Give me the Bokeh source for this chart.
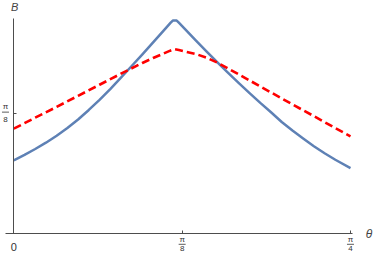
import numpy as np
from bokeh.plotting import figure
from bokeh.models import FixedTicker, Range1d, CustomJSTickFormatter
from bokeh.embed import file_html
from bokeh.resources import INLINE
from bokeh.core.properties import value

PI = np.pi

# --- data ---
theta_blue = [0, 0.025, 0.05, 0.075, 0.10, 0.125, 0.15, 0.175, 0.20, 0.225, 0.25, 0.275,
              0.30, 0.325, 0.35, 0.366, 0.371, 0.380, 0.385, 0.40, 0.425, 0.45, 0.475,
              0.50, 0.525, 0.55, 0.575, 0.60, 0.625, 0.65, 0.675, 0.70, 0.725, 0.75, 0.7854]
b_blue = [0.239, 0.257, 0.276, 0.2965, 0.319, 0.344, 0.372, 0.403, 0.436, 0.471, 0.508, 0.546,
          0.584, 0.623, 0.662, 0.687, 0.694, 0.694, 0.687, 0.665, 0.629, 0.593, 0.558,
          0.524, 0.4905, 0.458, 0.426, 0.3955, 0.364, 0.336, 0.310, 0.285, 0.262, 0.241, 0.214]

theta_red = [0, 0.05, 0.10, 0.15, 0.20, 0.25, 0.30, 0.325, 0.35, 0.365, 0.375, 0.385, 0.40,
             0.425, 0.45, 0.475, 0.50, 0.55, 0.60, 0.65, 0.70, 0.75, 0.7854]
b_red = [0.342, 0.378, 0.413, 0.449, 0.485, 0.521, 0.556, 0.572, 0.587, 0.596, 0.601, 0.598,
         0.593, 0.585, 0.573, 0.557, 0.538, 0.499, 0.460, 0.421, 0.383, 0.344, 0.317]

x_ticks = [PI / 8, PI / 4]
x_tick_num = ["π", "π"]
x_tick_den = ["8", "4"]
y_ticks = [PI / 8]
y_tick_num = ["π"]
y_tick_den = ["8"]

W, H = 374, 259
x0, x1 = -0.0310, 0.8414
y0, y1 = -0.0836, 0.7592
px_x = W / (x1 - x0)
px_y = H / (y1 - y0)

p = figure(width=W, height=H, x_range=Range1d(x0, x1), y_range=Range1d(y0, y1),
           output_backend="svg", toolbar_location=None, min_border=0)
p.outline_line_color = None
p.grid.visible = False
p.background_fill_color = "white"
p.border_fill_color = "white"

axis_col = "#4d4d4d"
for ax in (p.xaxis[0], p.yaxis[0]):
    ax.fixed_location = 0
    ax.axis_line_color = axis_col
    ax.axis_line_width = 1
    ax.major_tick_line_color = axis_col
    ax.major_tick_in = 3
    ax.major_tick_out = 0
    ax.minor_tick_line_color = None
    ax.formatter = CustomJSTickFormatter(code="return ''")
    ax.major_label_standoff = 0
p.xaxis.ticker = FixedTicker(ticks=x_ticks)
p.yaxis.ticker = FixedTicker(ticks=y_ticks)
p.xaxis.bounds = (-0.019, 0.79)
p.yaxis.bounds = (0, 0.70)

p.line(theta_blue, b_blue, line_color="#5E81B5", line_width=2.5, line_join="round")
p.line(theta_red, b_red, line_color="#FF0000", line_width=2.6, line_dash="8 4")

font = value("Liberation Sans")
lab_col = "#333333"

# x tick labels
p.text(x=[0], y=[0], text=["0"], text_font=font, text_font_size="11px",
       text_align="center", text_baseline="middle", y_offset=13, text_color=lab_col)
p.text(x=x_ticks, y=[0] * 2, text=x_tick_num, text_font=font, text_font_size="8px",
       text_align="center", text_baseline="middle", y_offset=6, text_color=lab_col)
p.text(x=x_ticks, y=[0] * 2, text=x_tick_den, text_font=font, text_font_size="8px",
       text_align="center", text_baseline="middle", y_offset=15, text_color=lab_col)
p.scatter(x=x_ticks, y=[-10.5 / px_y] * 2, marker="dash", size=7,
          line_color=lab_col, line_width=0.8)

# y tick label
ylx = -8.3 / px_x
p.text(x=[ylx], y=y_ticks, text=y_tick_num, text_font=font, text_font_size="8px",
       text_align="center", text_baseline="middle", y_offset=-7, text_color=lab_col)
p.text(x=[ylx], y=y_ticks, text=y_tick_den, text_font=font, text_font_size="8px",
       text_align="center", text_baseline="middle", y_offset=6.5, text_color=lab_col)
p.scatter(x=[ylx], y=[y_ticks[0] + 1 / px_y], marker="dash", size=7,
          line_color=lab_col, line_width=0.8)

# axis labels
p.text(x=[0], y=[y1], text=["B"], text_font=font, text_font_size="11px",
       text_font_style="italic", text_align="center", text_baseline="middle",
       x_offset=1, y_offset=6, text_color="#444444")
p.text(x=[x_ticks[1]], y=[0], text=["θ"], text_font=font, text_font_size="12px",
       text_font_style="italic", text_align="center", text_baseline="middle",
       x_offset=18.5, y_offset=0, text_color="#444444")

open("out.html", "w").write(file_html(p, INLINE))
